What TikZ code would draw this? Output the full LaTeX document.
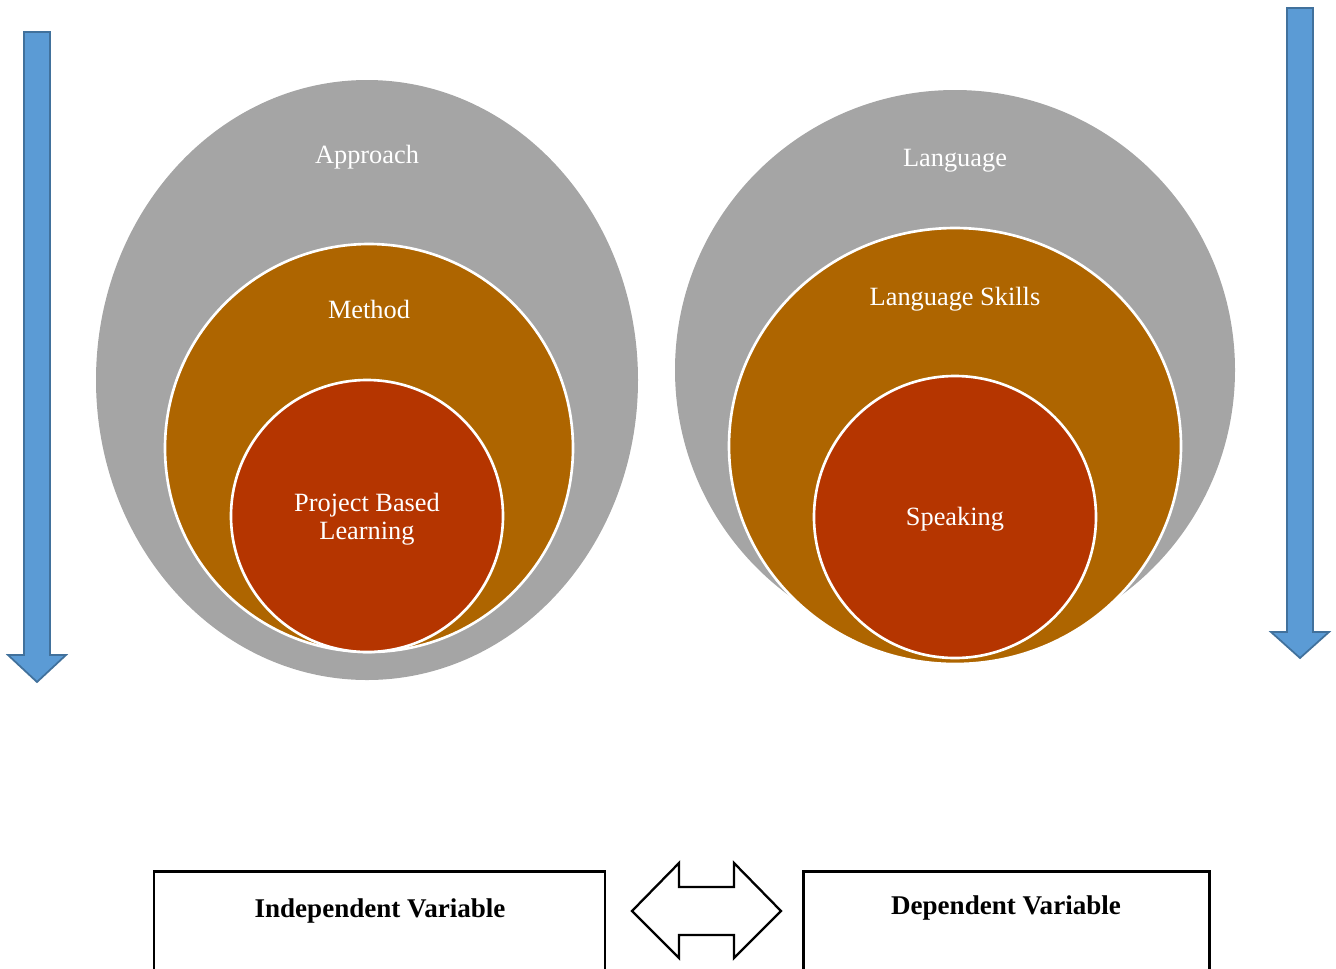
\documentclass[tikz,border=0pt]{standalone}
\usepackage{fontspec}
\setmainfont{Liberation Serif}
\usepackage{tikz}
\usetikzlibrary{positioning}
\usepackage{xcolor}
\definecolor{ringgray}{RGB}{165, 165, 165}
\definecolor{ringorange}{RGB}{174, 101, 0}
\definecolor{ringred}{RGB}{181, 53, 0}
\definecolor{arrowblue}{RGB}{91, 155, 213}
\definecolor{arrowedge}{RGB}{65, 113, 156}

\tikzset{
    circtext/.style={text=white, font=\fontsize{15}{16}\selectfont, align=center},
    boxtext/.style={font=\fontsize{15.4}{16}\selectfont\bfseries},
    blockarrow/.style={fill=arrowblue, draw=arrowedge, line width=1pt, line join=miter},
}

\begin{document}
\begin{tikzpicture}[x=0.02cm, y=-0.02cm]
    \clip (0,0) rectangle (1336,968);

    % left side: independent variable
    \fill[ringgray] (367,380) ellipse [x radius=271, y radius=300];
    \filldraw[fill=ringorange, draw=white, line width=1.5pt] (369,448) circle [radius=204];
    \filldraw[fill=ringred, draw=white, line width=1.5pt] (367,516) circle [radius=136];
    \node[circtext] (approach) at (367,157) {Approach};
    \node[circtext] (method) at (369,309) {Method};
    \node[circtext] (pbl) at (367,519) {Project Based\\Learning};

    % right side: dependent variable
    \fill[ringgray] (955,370) ellipse [x radius=280, y radius=280];
    \filldraw[fill=ringorange, draw=white, line width=1.5pt] (955,446) ellipse [x radius=226, y radius=218];
    \filldraw[fill=ringred, draw=white, line width=1.5pt] (955,517) circle [radius=141];
    \node[circtext] (language) at (955,161) {Language};
    \node[circtext] (skills) at (955,299) {Language Skills};
    \node[circtext] (speaking) at (955,519) {Speaking};

    % side arrows
    \draw[blockarrow] (24,32) -- (50,32) -- (50,655) -- (66,655) -- (37,682)
        -- (8,655) -- (24,655) -- cycle;
    \draw[blockarrow] (1287,8) -- (1313,8) -- (1313,632) -- (1329,632) -- (1300,658)
        -- (1271,632) -- (1287,632) -- cycle;

    % variable boxes
    \draw[line width=1.7pt] (154,990) -- (154,871) -- (605,871) -- (605,990);
    \draw[line width=1.7pt] (803,990) -- (803,871) -- (1209,871) -- (1209,990);
    \node[boxtext] (indep) at (380,911) {Independent Variable};
    \node[boxtext] (dep) at (1006,908) {Dependent Variable};

    % double arrow between boxes
    \draw[line width=1.3pt, fill=white] (632,911) -- (679,863) -- (679,887) -- (734,887)
        -- (734,863) -- (781,911) -- (734,958) -- (734,935) -- (679,935)
        -- (679,958) -- cycle;
\end{tikzpicture}
\end{document}
